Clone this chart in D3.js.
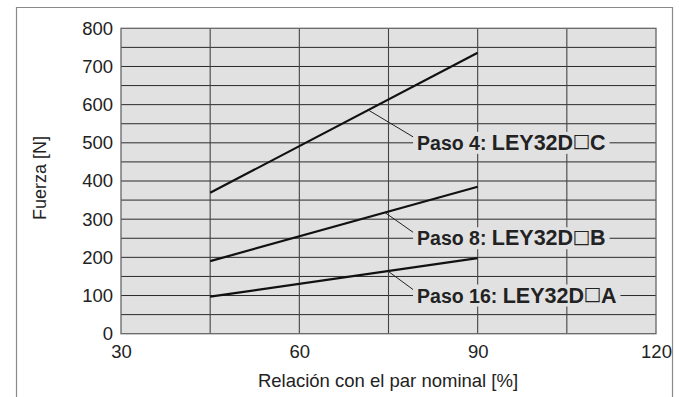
<!DOCTYPE html>
<html><head><meta charset="utf-8">
<script src="https://cdn.jsdelivr.net/npm/d3@7"></script>
<style>
html,body{margin:0;padding:0;background:#fff;}
svg{display:block;font-family:"Liberation Sans",Arial,Helvetica,sans-serif;}
</style></head>
<body>
<svg id="chart" width="679" height="397"></svg>
<script>
// ---- data ----
const xTicks = [30, 60, 90, 120];
const xGrid = [45, 60, 75, 90, 105];
const yTicks = [0, 100, 200, 300, 400, 500, 600, 700, 800];
const yGrid = [50, 100, 150, 200, 250, 300, 350, 400, 450, 500, 550, 600, 650, 700, 750];
const seriesX = [45, 90];
const paso4 = [369, 736];
const paso8 = [190, 385];
const paso16 = [97, 198];
const seriesNames = ["Paso 4: ", "Paso 8: ", "Paso 16: "];
const seriesCodes = ["LEY32D\u25A1C", "LEY32D\u25A1B", "LEY32D\u25A1A"];
const labelY = [500, 250, 100];
const leaderX = [71.6, 74.4, 74.9];
const xTitle = "Relación con el par nominal [%]";
const yTitle = "Fuerza [N]";

const svg = d3.select("#chart");
const L = 121, R = 656, T = 28.3, B = 333.7;
const x = d3.scaleLinear().domain([30, 120]).range([L, R]);
const y = d3.scaleLinear().domain([0, 800]).range([B, T]);

// outer frame
svg.append("path").attr("d", "M16.5,400 V7.5 H672.5 V400")
  .attr("fill", "none").attr("stroke", "#8a8a8a").attr("stroke-width", 1.2);

// plot background
svg.append("rect").attr("x", L).attr("y", T).attr("width", R - L).attr("height", B - T)
  .attr("fill", "#e1e1e2");

const g = svg.append("g");
g.selectAll("line.hg").data(yGrid).join("line")
  .attr("x1", L).attr("x2", R).attr("y1", d => y(d)).attr("y2", d => y(d))
  .attr("stroke", "#2a2a2a").attr("stroke-width", 1);
g.selectAll("line.vg").data(xGrid).join("line")
  .attr("x1", d => x(d)).attr("x2", d => x(d)).attr("y1", T).attr("y2", B)
  .attr("stroke", "#444").attr("stroke-width", 1.1);

svg.append("rect").attr("x", L).attr("y", T).attr("width", R - L).attr("height", B - T)
  .attr("fill", "none").attr("stroke", "#666").attr("stroke-width", 1.3);

const xAxis = d3.axisBottom(x).tickValues(xTicks).tickSize(0).tickPadding(11);
const gx = svg.append("g").attr("transform", `translate(0,${B})`).call(xAxis);
gx.select(".domain").remove();
gx.selectAll("text").attr("font-size", 18.5).attr("fill", "#222")
  .attr("font-family", "Liberation Sans, Arial, sans-serif");

const yAxis = d3.axisLeft(y).tickValues(yTicks).tickSize(0).tickPadding(8);
const gy = svg.append("g").attr("transform", `translate(${L},0)`).call(yAxis);
gy.select(".domain").remove();
gy.selectAll("text").attr("font-size", 18.5).attr("fill", "#222")
  .attr("font-family", "Liberation Sans, Arial, sans-serif");

svg.append("text").attr("x", 388).attr("y", 387).attr("text-anchor", "middle")
  .attr("font-size", 18.5).attr("fill", "#222").text(xTitle);
svg.append("text").attr("transform", "translate(46,178) rotate(-90)").attr("text-anchor", "middle")
  .attr("font-size", 18).attr("fill", "#222").text(yTitle);

const allSeries = [paso4, paso8, paso16];
const line = d3.line().x(d => x(d[0])).y(d => y(d[1]));
allSeries.forEach(s => {
  svg.append("path").attr("d", line(seriesX.map((xv, i) => [xv, s[i]])))
    .attr("fill", "none").attr("stroke", "#111").attr("stroke-width", 2.2);
});

const textX = x(79.8);
allSeries.forEach((s, i) => {
  const ly = y(labelY[i]);
  const lab = svg.append("g");
  const t = lab.append("text").attr("x", textX).attr("y", ly + 7)
    .attr("font-weight", "bold").attr("fill", "#222");
  t.append("tspan").attr("font-size", 19.5).text(seriesNames[i]);
  const parts = seriesCodes[i].split("\u25A1");
  t.append("tspan").attr("font-size", 21.5).text(parts[0]);
  t.append("tspan").attr("font-size", 19).attr("font-weight", "normal")
    .attr("font-family", "DejaVu Sans").attr("dx", -0.5).attr("dy", -2.5).text("\u25A1");
  t.append("tspan").attr("font-size", 21.5).attr("dx", -0.5).attr("dy", 2.5).text(parts[1]);
  const bb = t.node().getBBox();
  lab.insert("rect", "text").attr("x", textX - 4).attr("y", ly - 11)
    .attr("width", bb.width + 8).attr("height", 22).attr("fill", "#e1e1e2");
  const lx = leaderX[i];
  const vy = s[0] + (lx - seriesX[0]) / (seriesX[1] - seriesX[0]) * (s[1] - s[0]);
  svg.append("line").attr("x1", x(lx)).attr("y1", y(vy))
    .attr("x2", textX - 4).attr("y2", ly - 6)
    .attr("stroke", "#222").attr("stroke-width", 1);
});
</script>
</body></html>
